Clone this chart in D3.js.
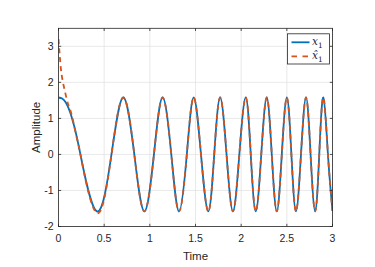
<!DOCTYPE html>
<html>
<head>
<meta charset="utf-8">
<script src="https://cdn.jsdelivr.net/npm/d3@7/dist/d3.min.js"></script>
<style>
  html, body { margin: 0; padding: 0; background: #fff; }
  svg { display: block; }
  text { font-family: "Liberation Sans", Arial, Helvetica, sans-serif; fill: #262626; }
</style>
</head>
<body>
<svg id="chart" width="375" height="267"></svg>
<script>
// ---- data ----
// x1: extrema and zero crossings of the chirp-like signal
const t1 = [0, 0.04, 0.08, 0.126, 0.17, 0.24, 0.42, 0.58, 0.71, 0.83, 0.94,
            1.045, 1.14, 1.235, 1.32, 1.405, 1.48, 1.56, 1.64, 1.705, 1.77, 1.84, 1.91, 1.98,
            2.05, 2.105, 2.16, 2.22, 2.28, 2.335, 2.39, 2.445, 2.50, 2.55, 2.60, 2.655,
            2.71, 2.76, 2.81, 2.855, 2.90, 2.95, 3.0];
const x1 = [1.58, 1.55, 1.44, 1.18, 0.80, 0, -1.58, 0, 1.58, 0, -1.58,
            0, 1.58, 0, -1.58, 0, 1.58, 0, -1.58, 0, 1.58, 0, -1.58, 0,
            1.58, 0, -1.58, 0, 1.58, 0, -1.58, 0, 1.58, 0, -1.58, 0,
            1.58, 0, -1.58, 0, 1.58, 0, -1.57];
// x-hat 1: estimate, transient part (afterwards it tracks x1)
const tHatStart = [0, 0.016, 0.035, 0.071, 0.108, 0.145, 0.20, 0.24, 0.42, 0.58];
const xHatStart = [3.2, 2.67, 2.2, 1.74, 1.37, 1.09, 0.46, 0, -1.63, 0];

const xTicks = [0, 0.5, 1, 1.5, 2, 2.5, 3];
const xTickLabels = ["0", "0.5", "1", "1.5", "2", "2.5", "3"];
const yTicks = [-2, -1, 0, 1, 2, 3];
const yTickLabels = ["-2", "-1", "0", "1", "2", "3"];

const xLabel = "Time";
const yLabel = "Amplitude";

// ---- layout ----
const W = 375, H = 267;
const L = 58.5, R = 332.5, T = 28.3, B = 226.5;
const blue = "#0072BD", orange = "#D95319", axisCol = "#262626";

const svg = d3.select("#chart");
svg.append("rect").attr("width", W).attr("height", H).attr("fill", "#fff");

const x = d3.scaleLinear().domain([0, 3]).range([L, R]);
const y = d3.scaleLinear().domain([-2, 3.5]).range([B, T]);

// grid
const grid = svg.append("g");
grid.selectAll(".gx").data(xTicks).join("line")
  .attr("x1", d => x(d)).attr("x2", d => x(d)).attr("y1", T).attr("y2", B)
  .attr("stroke", "#dfdfdf").attr("stroke-width", 0.7);
grid.selectAll(".gy").data(yTicks).join("line")
  .attr("x1", L).attr("x2", R).attr("y1", d => y(d)).attr("y2", d => y(d))
  .attr("stroke", "#dfdfdf").attr("stroke-width", 0.7);

// clip
svg.append("clipPath").attr("id", "clip").append("rect")
  .attr("x", L).attr("y", T).attr("width", R - L).attr("height", B - T);

const line = d3.line().x(d => x(d[0])).y(d => y(d[1])).curve(d3.curveNatural);

const dataX1 = t1.map((t, i) => [t, x1[i]]);
const lastStart = tHatStart[tHatStart.length - 1];
const dataHat = tHatStart.map((t, i) => [t, xHatStart[i]])
  .concat(t1.map((t, i) => [t, x1[i]]).filter(d => d[0] > lastStart));

const plot = svg.append("g").attr("clip-path", "url(#clip)");
plot.append("path").datum(dataX1).attr("d", line)
  .attr("fill", "none").attr("stroke", blue).attr("stroke-width", 1.8);
plot.append("path").datum(dataHat).attr("d", line)
  .attr("fill", "none").attr("stroke", orange).attr("stroke-width", 1.8)
  .attr("stroke-dasharray", "5,4");

// axes box with ticks on all sides
const tl = 2.7;
const ax = svg.append("g").attr("stroke", axisCol).attr("stroke-width", 0.8);
ax.append("rect").attr("x", L).attr("y", T).attr("width", R - L).attr("height", B - T)
  .attr("fill", "none");
ax.selectAll(".tb").data(xTicks).join("line")
  .attr("x1", d => x(d)).attr("x2", d => x(d)).attr("y1", B).attr("y2", B - tl);
ax.selectAll(".tt").data(xTicks).join("line")
  .attr("x1", d => x(d)).attr("x2", d => x(d)).attr("y1", T).attr("y2", T + tl);
ax.selectAll(".tlf").data(yTicks).join("line")
  .attr("x1", L).attr("x2", L + tl).attr("y1", d => y(d)).attr("y2", d => y(d));
ax.selectAll(".tr").data(yTicks).join("line")
  .attr("x1", R).attr("x2", R - tl).attr("y1", d => y(d)).attr("y2", d => y(d));

// tick labels
svg.selectAll(".xl").data(xTicks).join("text")
  .attr("x", d => x(d)).attr("y", 241.5).attr("text-anchor", "middle")
  .attr("font-size", 10.5).text((d, i) => xTickLabels[i]);
svg.selectAll(".yl").data(yTicks).join("text")
  .attr("x", 53.5).attr("y", d => y(d)).attr("dy", "0.36em").attr("text-anchor", "end")
  .attr("font-size", 10.5).text((d, i) => yTickLabels[i]);

// axis labels
svg.append("text").attr("x", (L + R) / 2).attr("y", 259.5).attr("text-anchor", "middle")
  .attr("font-size", 11.5).text(xLabel);
svg.append("text").attr("transform", `translate(39.5,${(T + B) / 2}) rotate(-90)`)
  .attr("text-anchor", "middle").attr("font-size", 11.5).text(yLabel);

// legend
const lg = svg.append("g");
lg.append("rect").attr("x", 287.5).attr("y", 33.8).attr("width", 42).attr("height", 30.2)
  .attr("fill", "#fff").attr("stroke", axisCol).attr("stroke-width", 0.8);
const entries = [
  { color: blue, dash: null, name: "x", yy: 42.3 },
  { color: orange, dash: "5.5,5.5", name: "x\u0302", yy: 56.3 }
];
entries.forEach(e => {
  lg.append("line").attr("x1", 291.5).attr("x2", 309.5).attr("y1", e.yy).attr("y2", e.yy)
    .attr("stroke", e.color).attr("stroke-width", 1.8)
    .attr("stroke-dasharray", e.dash);
  const tx = lg.append("text").attr("x", 312).attr("y", e.yy + 3)
    .style("font-family", "'DejaVu Serif', 'Liberation Serif', serif")
    .attr("font-size", 10.5);
  tx.append("tspan").attr("font-style", "italic").text(e.name);
  tx.append("tspan").attr("font-size", 7.5).attr("dy", 2.5).text("1");
});
</script>
</body>
</html>
